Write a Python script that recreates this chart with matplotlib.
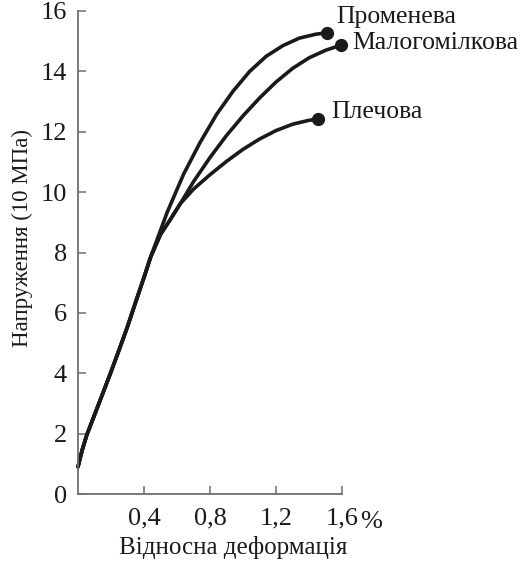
import matplotlib

matplotlib.use("Agg")
import matplotlib.pyplot as plt  # noqa: E402

plt.rcParams["font.family"] = ["Liberation Serif", "DejaVu Serif"]

INK = "#1a1a1a"
AXIS = "#6e6e6e"

# shared initial part of all three curves (strain %, stress in 10 MPa)
base_x = [0.0, 0.025, 0.053, 0.10, 0.15, 0.20, 0.25, 0.30, 0.35, 0.40, 0.44]
base_y = [0.9, 1.45, 1.95, 2.62, 3.33, 4.05, 4.79, 5.55, 6.37, 7.18, 7.85]

# Променева (radius)
rad_x = [0.54, 0.64, 0.74, 0.84, 0.94, 1.04, 1.14, 1.24, 1.34, 1.44, 1.506]
rad_y = [9.33, 10.6, 11.65, 12.58, 13.35, 14.0, 14.5, 14.85, 15.1, 15.23, 15.28]

# common part of малогомілкова and плечова before they split
mid_x = [0.50, 0.56, 0.62]
mid_y = [8.6, 9.1, 9.62]

# Малогомілкова (fibula)
fib_x = [0.70, 0.80, 0.90, 1.00, 1.10, 1.20, 1.30, 1.40, 1.50, 1.594]
fib_y = [10.35, 11.15, 11.88, 12.53, 13.12, 13.65, 14.1, 14.45, 14.7, 14.87]

# Плечова (humerus)
hum_x = [0.70, 0.80, 0.90, 1.00, 1.10, 1.20, 1.30, 1.40, 1.451]
hum_y = [10.1, 10.58, 11.02, 11.42, 11.76, 12.04, 12.25, 12.38, 12.42]

names = ["Променева", "Малогомілкова", "Плечова"]
x_ticks = [0.4, 0.8, 1.2, 1.6]
x_ticklabels = ["0,4", "0,8", "1,2", "1,6"]
y_ticks = [0, 2, 4, 6, 8, 10, 12, 14, 16]

fig = plt.figure(figsize=(5.2, 5.61), dpi=100)
ax = fig.add_axes([0.15, 0.1194, 0.508, 0.861])

curves = [
    (base_x + rad_x, base_y + rad_y),
    (base_x + mid_x + fib_x, base_y + mid_y + fib_y),
    (base_x + mid_x + hum_x, base_y + mid_y + hum_y),
]
# label offsets from the end dot, in points
label_offsets = [(7, 11.5), (8, 1.5), (10, 5)]
for (x, y), name, off in zip(curves, names, label_offsets):
    ax.plot(x, y, color=INK, lw=2.6, solid_capstyle="round",
            solid_joinstyle="round", clip_on=False)
    ax.plot(x[-1], y[-1], "o", color=INK, ms=8.5, clip_on=False)
    ax.annotate(name, (x[-1], y[-1]), xytext=off, textcoords="offset points",
                ha="left", va="center", fontsize=18.5, color=INK,
                annotation_clip=False)

ax.set_xlim(0, 1.6)
ax.set_ylim(0, 16)
ax.set_xticks(x_ticks)
ax.set_xticklabels(x_ticklabels)
ax.set_yticks(y_ticks)
ax.tick_params(direction="in", length=6, width=1.1, colors=AXIS,
               labelcolor=INK, labelsize=19)
ax.tick_params(axis="x", pad=10)
ax.tick_params(axis="y", pad=8)
ax.annotate("%", (1.6, 0), xytext=(13, -12.5), textcoords="offset points",
            ha="left", va="top", fontsize=19, color=INK, annotation_clip=False)

for s in ("top", "right"):
    ax.spines[s].set_visible(False)
for s in ("left", "bottom"):
    ax.spines[s].set_color(AXIS)
    ax.spines[s].set_linewidth(1.3)

ax.text(-0.212, 0.53, "Напруження (10 МПа)", transform=ax.transAxes,
        rotation=90, ha="center", va="center", fontsize=16.5, color=INK)
ax.text(0.587, -0.110, "Відносна деформація", transform=ax.transAxes,
        ha="center", va="center", fontsize=18, color=INK)

fig.savefig("out.png", dpi=100, facecolor="white")
